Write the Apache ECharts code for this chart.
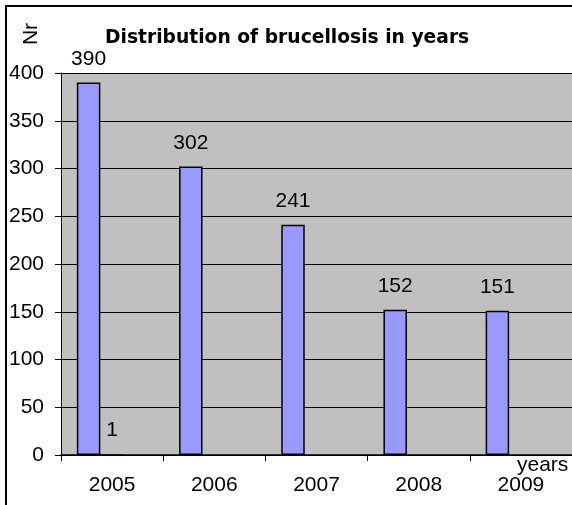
<!DOCTYPE html>
<html>
<head>
<meta charset="utf-8">
<script src="https://cdn.jsdelivr.net/npm/echarts@6/dist/echarts.min.js"></script>
<style>
  html, body { margin: 0; padding: 0; background: #fff; }
  #chart { width: 572px; height: 505px; }
</style>
</head>
<body>
<div id="chart"></div>
<script>
// Cases of brucellosis recorded per year
const years = ['2005', '2006', '2007', '2008', '2009'];
const series1 = [390, 302, 241, 152, 151];
const series2 = [1, null, null, null, null];
const series3 = [null, null, null, null, null];
const yTicks = { min: 0, max: 400, interval: 50 };

const numFont = "'Liberation Sans', Arial, sans-serif";
const numSize = 21;
const chart = echarts.init(document.getElementById('chart'), null, { renderer: 'canvas' });

const barLabel = {
  show: true,
  position: 'top',
  distance: 13,
  color: '#000',
  fontFamily: numFont,
  fontSize: numSize
};

chart.setOption({
  animation: false,
  backgroundColor: '#fff',
  title: {
    text: 'Distribution of brucellosis in years',
    left: 105,
    top: 29,
    padding: 0,
    textStyle: {
      fontFamily: "'DejaVu Sans', sans-serif",
      fontWeight: 'bold',
      fontSize: 18.7,
      color: '#000'
    }
  },
  grid: {
    left: 61,
    top: 73,
    width: 514,
    height: 382,
    show: true,
    backgroundColor: '#C0C0C0',
    borderWidth: 0
  },
  xAxis: {
    type: 'category',
    data: years,
    z: 5,
    axisLine: { show: true, lineStyle: { color: '#000', width: 1.5 } },
    axisTick: { show: true, inside: false, length: 6, lineStyle: { color: '#000' } },
    axisLabel: { color: '#000', fontFamily: numFont, fontSize: numSize, margin: 20 },
    splitLine: { show: false }
  },
  yAxis: {
    type: 'value',
    min: yTicks.min,
    max: yTicks.max,
    interval: yTicks.interval,
    axisLine: { show: true, lineStyle: { color: '#000', width: 1 } },
    axisTick: { show: true, inside: false, length: 6, lineStyle: { color: '#000' } },
    axisLabel: { color: '#000', fontFamily: numFont, fontSize: numSize, margin: 17 },
    splitLine: { show: true, lineStyle: { color: '#000', width: 1 } }
  },
  series: [
    {
      name: 'Series1',
      type: 'bar',
      data: series1,
      barWidth: 23.5,
      barGap: '0%',
      itemStyle: { color: '#9999FF', borderColor: '#000', borderWidth: 1.5 },
      label: barLabel
    },
    {
      name: 'Series2',
      type: 'bar',
      data: series2,
      barWidth: 23.5,
      barGap: '0%',
      itemStyle: { color: '#993366', borderWidth: 0 },
      label: barLabel
    },
    {
      name: 'Series3',
      type: 'bar',
      data: series3,
      barWidth: 23.5,
      barGap: '0%',
      itemStyle: { color: '#FFFFCC', borderColor: '#000', borderWidth: 1.5 }
    }
  ],
  graphic: [
    {
      type: 'rect',
      silent: true,
      z: 100,
      shape: { x: 6, y: 6, width: 700, height: 700 },
      style: { fill: 'none', stroke: '#000', lineWidth: 2 }
    },
    {
      type: 'text',
      x: 31,
      y: 34,
      rotation: Math.PI / 2,
      style: {
        text: 'Nr',
        fill: '#000',
        font: numSize + "px 'Liberation Sans', Arial, sans-serif",
        align: 'center',
        verticalAlign: 'middle'
      }
    },
    {
      type: 'text',
      x: 517,
      y: 465,
      style: {
        text: 'years',
        fill: '#000',
        font: numSize + "px 'Liberation Sans', Arial, sans-serif",
        align: 'left',
        verticalAlign: 'middle'
      }
    }
  ]
});
</script>
</body>
</html>
